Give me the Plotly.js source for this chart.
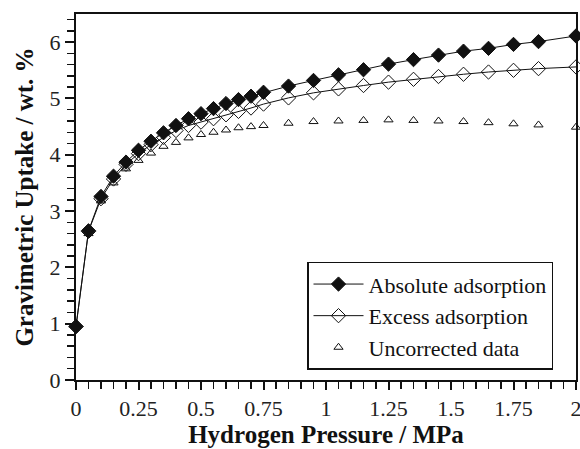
<!DOCTYPE html>
<html>
<head>
<meta charset="utf-8">
<script src="https://cdn.plot.ly/plotly-3.0.1.min.js"></script>
<style>html,body{margin:0;padding:0;background:#fff;}#chart{width:580px;height:449px;}</style>
</head>
<body>
<div id="chart"></div>
<script>
var pressure = [0, 0.05, 0.1, 0.15, 0.2, 0.25, 0.3, 0.35, 0.4, 0.45, 0.5, 0.55, 0.6, 0.65, 0.7, 0.75, 0.85, 0.95, 1.05, 1.15, 1.25, 1.35, 1.45, 1.55, 1.65, 1.75, 1.85, 2.0];
var absoluteAds = [0.95, 2.65, 3.26, 3.62, 3.87, 4.08, 4.24, 4.39, 4.52, 4.64, 4.73, 4.82, 4.91, 4.98, 5.04, 5.11, 5.22, 5.32, 5.42, 5.51, 5.61, 5.69, 5.77, 5.84, 5.89, 5.96, 6.01, 6.11];
var excessAds = [0.95, 2.64, 3.22, 3.57, 3.83, 4.02, 4.18, 4.31, 4.43, 4.52, 4.58, 4.64, 4.71, 4.77, 4.83, 4.9, 5.01, 5.1, 5.17, 5.23, 5.29, 5.34, 5.39, 5.43, 5.47, 5.5, 5.53, 5.56];
var uncorrected = [0.95, 2.6, 3.18, 3.5, 3.75, 3.9, 4.03, 4.15, 4.22, 4.3, 4.36, 4.4, 4.44, 4.48, 4.5, 4.52, 4.56, 4.59, 4.6, 4.61, 4.62, 4.61, 4.6, 4.59, 4.57, 4.55, 4.53, 4.49];
var seriesNames = ["Absolute adsorption", "Excess adsorption", "Uncorrected data"];
var xTickVals = [0, 0.25, 0.5, 0.75, 1, 1.25, 1.5, 1.75, 2];
var xTickText = ["0", "0.25", "0.5", "0.75", "1", "1.25", "1.5", "1.75", "2"];
var yTickVals = [0, 1, 2, 3, 4, 5, 6];
var yTickText = ["0", "1", "2", "3", "4", "5", "6"];

var serif = "'Liberation Serif', 'Times New Roman', serif";
var traces = [
  {x: pressure, y: absoluteAds, name: seriesNames[0], mode: "lines+markers", cliponaxis: false,
   line: {color: "#111", width: 1},
   marker: {symbol: "diamond", size: 11, color: "#111", line: {color: "#111", width: 1}}},
  {x: pressure, y: excessAds, name: seriesNames[1], mode: "lines+markers", cliponaxis: false,
   line: {color: "#111", width: 1},
   marker: {symbol: "diamond-open", size: 11, color: "#111", line: {color: "#111", width: 1}}},
  {x: pressure, y: uncorrected, name: seriesNames[2], mode: "markers", cliponaxis: false,
   marker: {symbol: "triangle-up-open", size: 8, color: "#111", line: {color: "#111", width: 1}}}
];

var layout = {
  width: 580, height: 449,
  margin: {l: 76, r: 4, t: 14, b: 69},
  paper_bgcolor: "#fff", plot_bgcolor: "#fff",
  font: {family: serif, color: "#111", size: 22},
  showlegend: true,
  legend: {x: 0.462, y: 0.028, xanchor: "left", yanchor: "bottom",
    bordercolor: "#111", borderwidth: 1.5, bgcolor: "#fff",
    font: {family: serif, size: 22, color: "#111"},
    itemwidth: 50, tracegroupgap: 0},
  xaxis: {range: [0, 2], showgrid: false, zeroline: false,
    showline: true, linecolor: "#111", linewidth: 2, mirror: true,
    ticks: "outside", ticklen: 8, tickwidth: 2, tickcolor: "#111",
    tickvals: xTickVals, ticktext: xTickText, ticklabeloverflow: "allow",
    minor: {dtick: 0.05, ticks: "outside", ticklen: 7, tickwidth: 1.5, tickcolor: "#111", showgrid: false},
    tickfont: {family: serif, size: 22, color: "#222"},
    title: {text: "<b>Hydrogen Pressure / MPa</b>", font: {family: serif, size: 25, color: "#111"}, standoff: 5}},
  yaxis: {range: [0, 6.5], showgrid: false, zeroline: false,
    showline: true, linecolor: "#111", linewidth: 2, mirror: true,
    ticks: "outside", ticklen: 9, tickwidth: 2, tickcolor: "#111",
    tickvals: yTickVals, ticktext: yTickText,
    minor: {dtick: 0.2, ticks: "outside", ticklen: 7, tickwidth: 1.5, tickcolor: "#111", showgrid: false},
    tickfont: {family: serif, size: 22, color: "#222"},
    title: {text: "<b>Gravimetric Uptake / wt. %</b>", font: {family: serif, size: 25, color: "#111"}, standoff: 9}}
};

Plotly.newPlot("chart", traces, layout, {displayModeBar: false, staticPlot: true});
</script>
</body>
</html>
